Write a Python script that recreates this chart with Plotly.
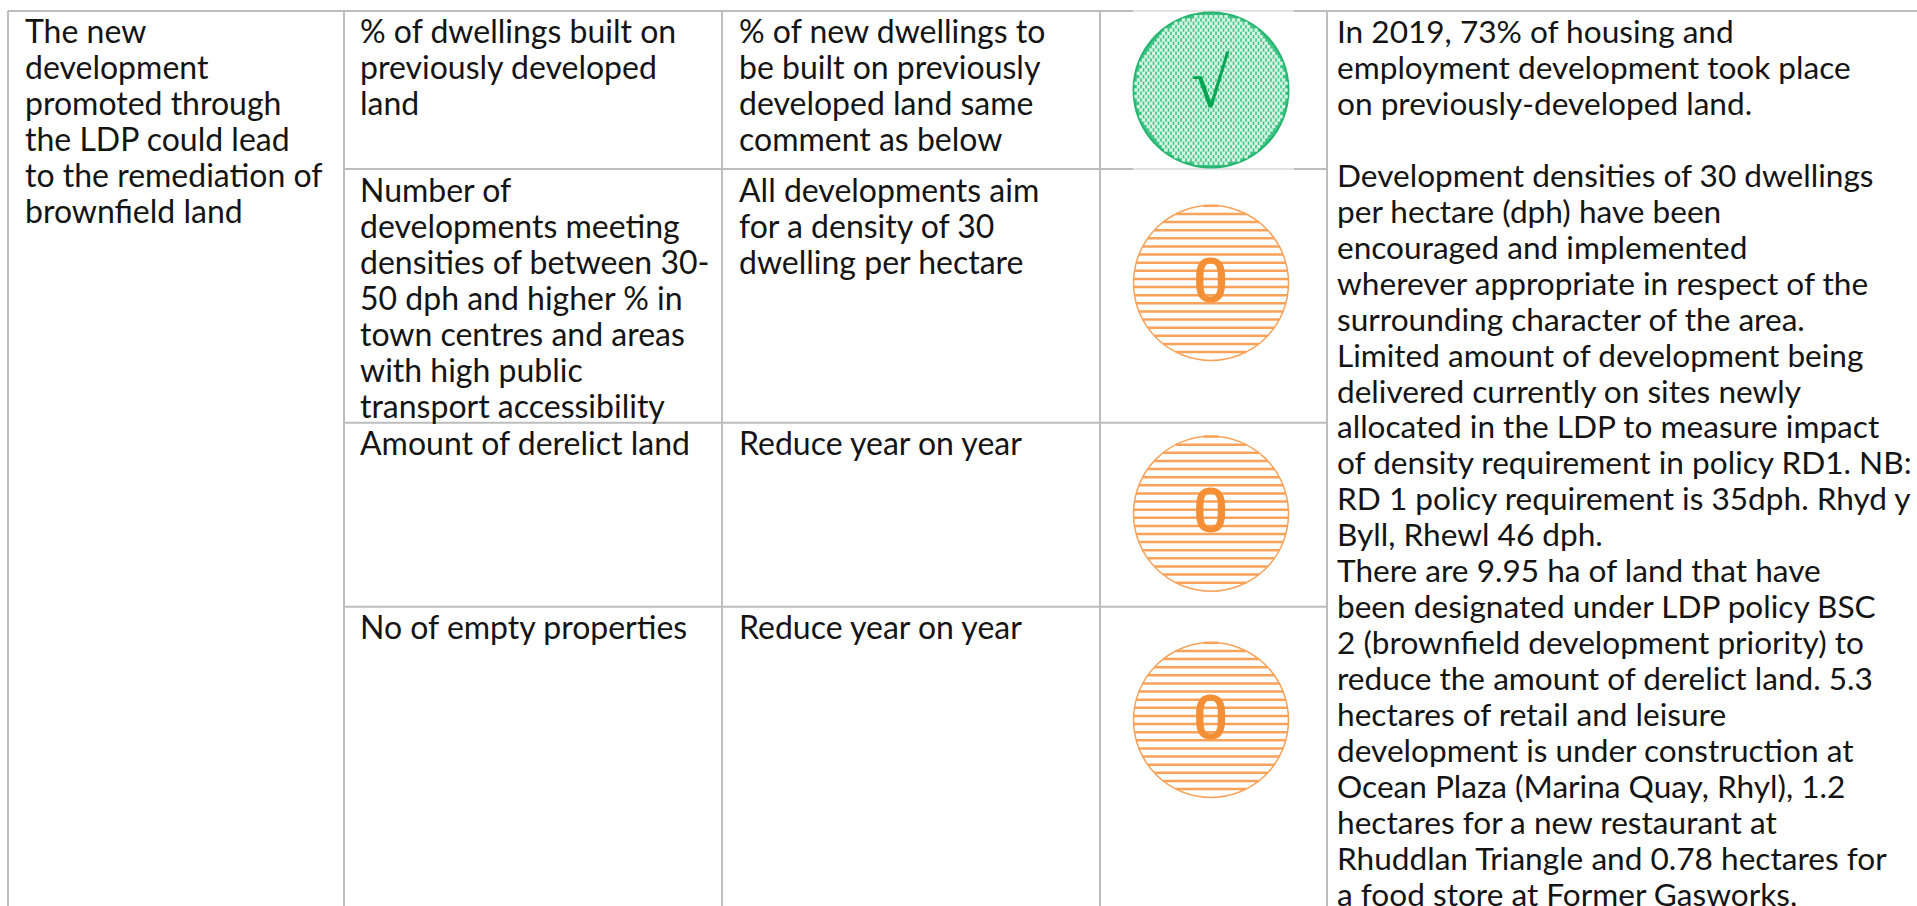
import math
import plotly.graph_objects as go

# ---- table content ----
objective_lines = ["The new", "development", "promoted through", "the LDP could lead",
                   "to the remediation of", "brownfield land"]
indicator_1 = ["% of dwellings built on", "previously developed", "land"]
indicator_2 = ["Number of", "developments meeting", "densities of between 30-", "50 dph and higher % in",
               "town centres and areas", "with high public", "transport accessibility"]
indicator_3 = ["Amount of derelict land"]
indicator_4 = ["No of empty properties"]
target_1 = ["% of new dwellings to", "be built on previously", "developed land same", "comment as below"]
target_2 = ["All developments aim", "for a density of 30", "dwelling per hectare"]
target_3 = ["Reduce year on year"]
target_4 = ["Reduce year on year"]
comment_lines = [
    "In 2019, 73% of housing and", "employment development took place", "on previously-developed land.", "",
    "Development densities of 30 dwellings", "per hectare (dph) have been", "encouraged and implemented",
    "wherever appropriate in respect of the", "surrounding character of the area.",
    "Limited amount of development being", "delivered currently on sites newly",
    "allocated in the LDP to measure impact", "of density requirement in policy RD1. NB:",
    "RD 1 policy requirement is 35dph. Rhyd y", "Byll, Rhewl 46 dph.", "There are 9.95 ha of land that have",
    "been designated under LDP policy BSC", "2 (brownfield development priority) to",
    "reduce the amount of derelict land. 5.3", "hectares of retail and leisure",
    "development is under construction at", "Ocean Plaza (Marina Quay, Rhyl), 1.2",
    "hectares for a new restaurant at", "Rhuddlan Triangle and 0.78 hectares for",
    "a food store at Former Gasworks,"]
ratings = ["√", "0", "0", "0"]

# ---- layout geometry (pixels) ----
W, H = 1917, 906
GRID = "#BDBDBD"
INK = "#141414"
FONT = "Lato"
FS = 32
FS_COMMENT = 31.6
LINE_H = 35.95
col_x = [8, 344, 722, 1100, 1327]
row_y = [11, 169, 422.7, 606.7]
text_x = [23, 358, 737, 1335]
row_base = [41, 200, 453, 637]
icon_cx = 1211
icon_cy = [90, 283, 513.7, 720]
icon_r = 77.5
ORANGE = "#F9A25A"
GREEN = "#3DC585"

shapes, ann = [], []

def hline(y, x0, x1, color=GRID):
    shapes.append(dict(type="line", x0=x0, x1=x1, y0=y, y1=y, layer="below", line=dict(color=color, width=2)))

def vline(x):
    shapes.append(dict(type="line", x0=x, x1=x, y0=row_y[0], y1=H, layer="below", line=dict(color=GRID, width=2)))

hline(row_y[0], col_x[0], W)
for y in row_y[1:]:
    hline(y, col_x[1], col_x[4])
for x in col_x:
    vline(x)

# paler rule segments where the green icon image overlaps its row rules
hline(row_y[0], 1133, 1294, "#E2E2E2")
hline(row_y[1], 1133, 1294, "#E2E2E2")

def add_lines(lines, x, base, size=FS):
    for i, t in enumerate(lines):
        if t:
            ann.append(dict(x=x, y=base + i * LINE_H, text=t, xref="x", yref="y", xanchor="left", yanchor="bottom",
                            yshift=-11, showarrow=False, font=dict(family=FONT, size=size, color=INK)))

add_lines(objective_lines, text_x[0], row_base[0])
for lines, base in zip([indicator_1, indicator_2, indicator_3, indicator_4], row_base):
    add_lines(lines, text_x[1], base)
for lines, base in zip([target_1, target_2, target_3, target_4], row_base):
    add_lines(lines, text_x[2], base)
add_lines(comment_lines, text_x[3], row_base[0], FS_COMMENT)

# orange hatched icons
for cy, rating in zip(icon_cy, ratings):
    if rating != "0":
        continue
    shapes.append(dict(type="circle", x0=icon_cx - icon_r, x1=icon_cx + icon_r, y0=cy - icon_r, y1=cy + icon_r,
                       layer="below", line=dict(color=ORANGE, width=1.5), fillcolor="white"))
    for k in range(-9, 10):
        dy = k * 8.12 - 4.06
        if abs(dy) < icon_r:
            half = math.sqrt(icon_r ** 2 - dy ** 2)
            shapes.append(dict(type="line", x0=icon_cx - half, x1=icon_cx + half, y0=cy + dy, y1=cy + dy,
                               layer="below", line=dict(color=ORANGE, width=2.5)))
    ann.append(dict(x=icon_cx - 0.5, y=cy - 3, text=rating, xref="x", yref="y", xanchor="center", yanchor="middle",
                    showarrow=False, font=dict(family="Roboto", size=62, weight=500, color="#F58F35")))

# green dotted icon
cy = icon_cy[0]
shapes.append(dict(type="circle", x0=icon_cx - icon_r, x1=icon_cx + icon_r, y0=cy - icon_r, y1=cy + icon_r,
                   layer="below", line=dict(color="#25B56E", width=2), fillcolor=GREEN))
dx_, dy_ = 5.0, 3.33
dot_x, dot_y = [], []
for r in range(-24, 25):
    for c in range(-17, 18):
        px = c * dx_ + (dx_ / 2 if r % 2 else 0)
        py = r * dy_
        if px * px + py * py < (icon_r - 2) ** 2:
            dot_x.append(icon_cx + px)
            dot_y.append(cy + py)

fig = go.Figure()
fig.add_trace(go.Scatter(x=dot_x, y=dot_y, mode="markers", hoverinfo="skip",
                         marker=dict(size=3.4, color="#D5F3E2", symbol="square", line=dict(width=0))))
ann.append(dict(x=1210, y=83, text=ratings[0], xref="x", yref="y", xanchor="center", yanchor="middle",
                showarrow=False, font=dict(family="Liberation Serif", size=70, weight=700, color="#00A651")))

fig.update_layout(
    width=W, height=H, margin=dict(l=0, r=0, t=0, b=0), showlegend=False,
    paper_bgcolor="white", plot_bgcolor="white", shapes=shapes, annotations=ann,
    xaxis=dict(range=[0, W], visible=False, fixedrange=True),
    yaxis=dict(range=[H, 0], visible=False, fixedrange=True),
)
post = ("document.body.style.margin='0';document.body.style.overflow='hidden';"
        "var s=document.createElement('style');s.textContent='text{font-variant-ligatures:none}';"
        "document.head.appendChild(s);")
fig.write_html("out.html", config={"displayModeBar": False}, post_script=post)
